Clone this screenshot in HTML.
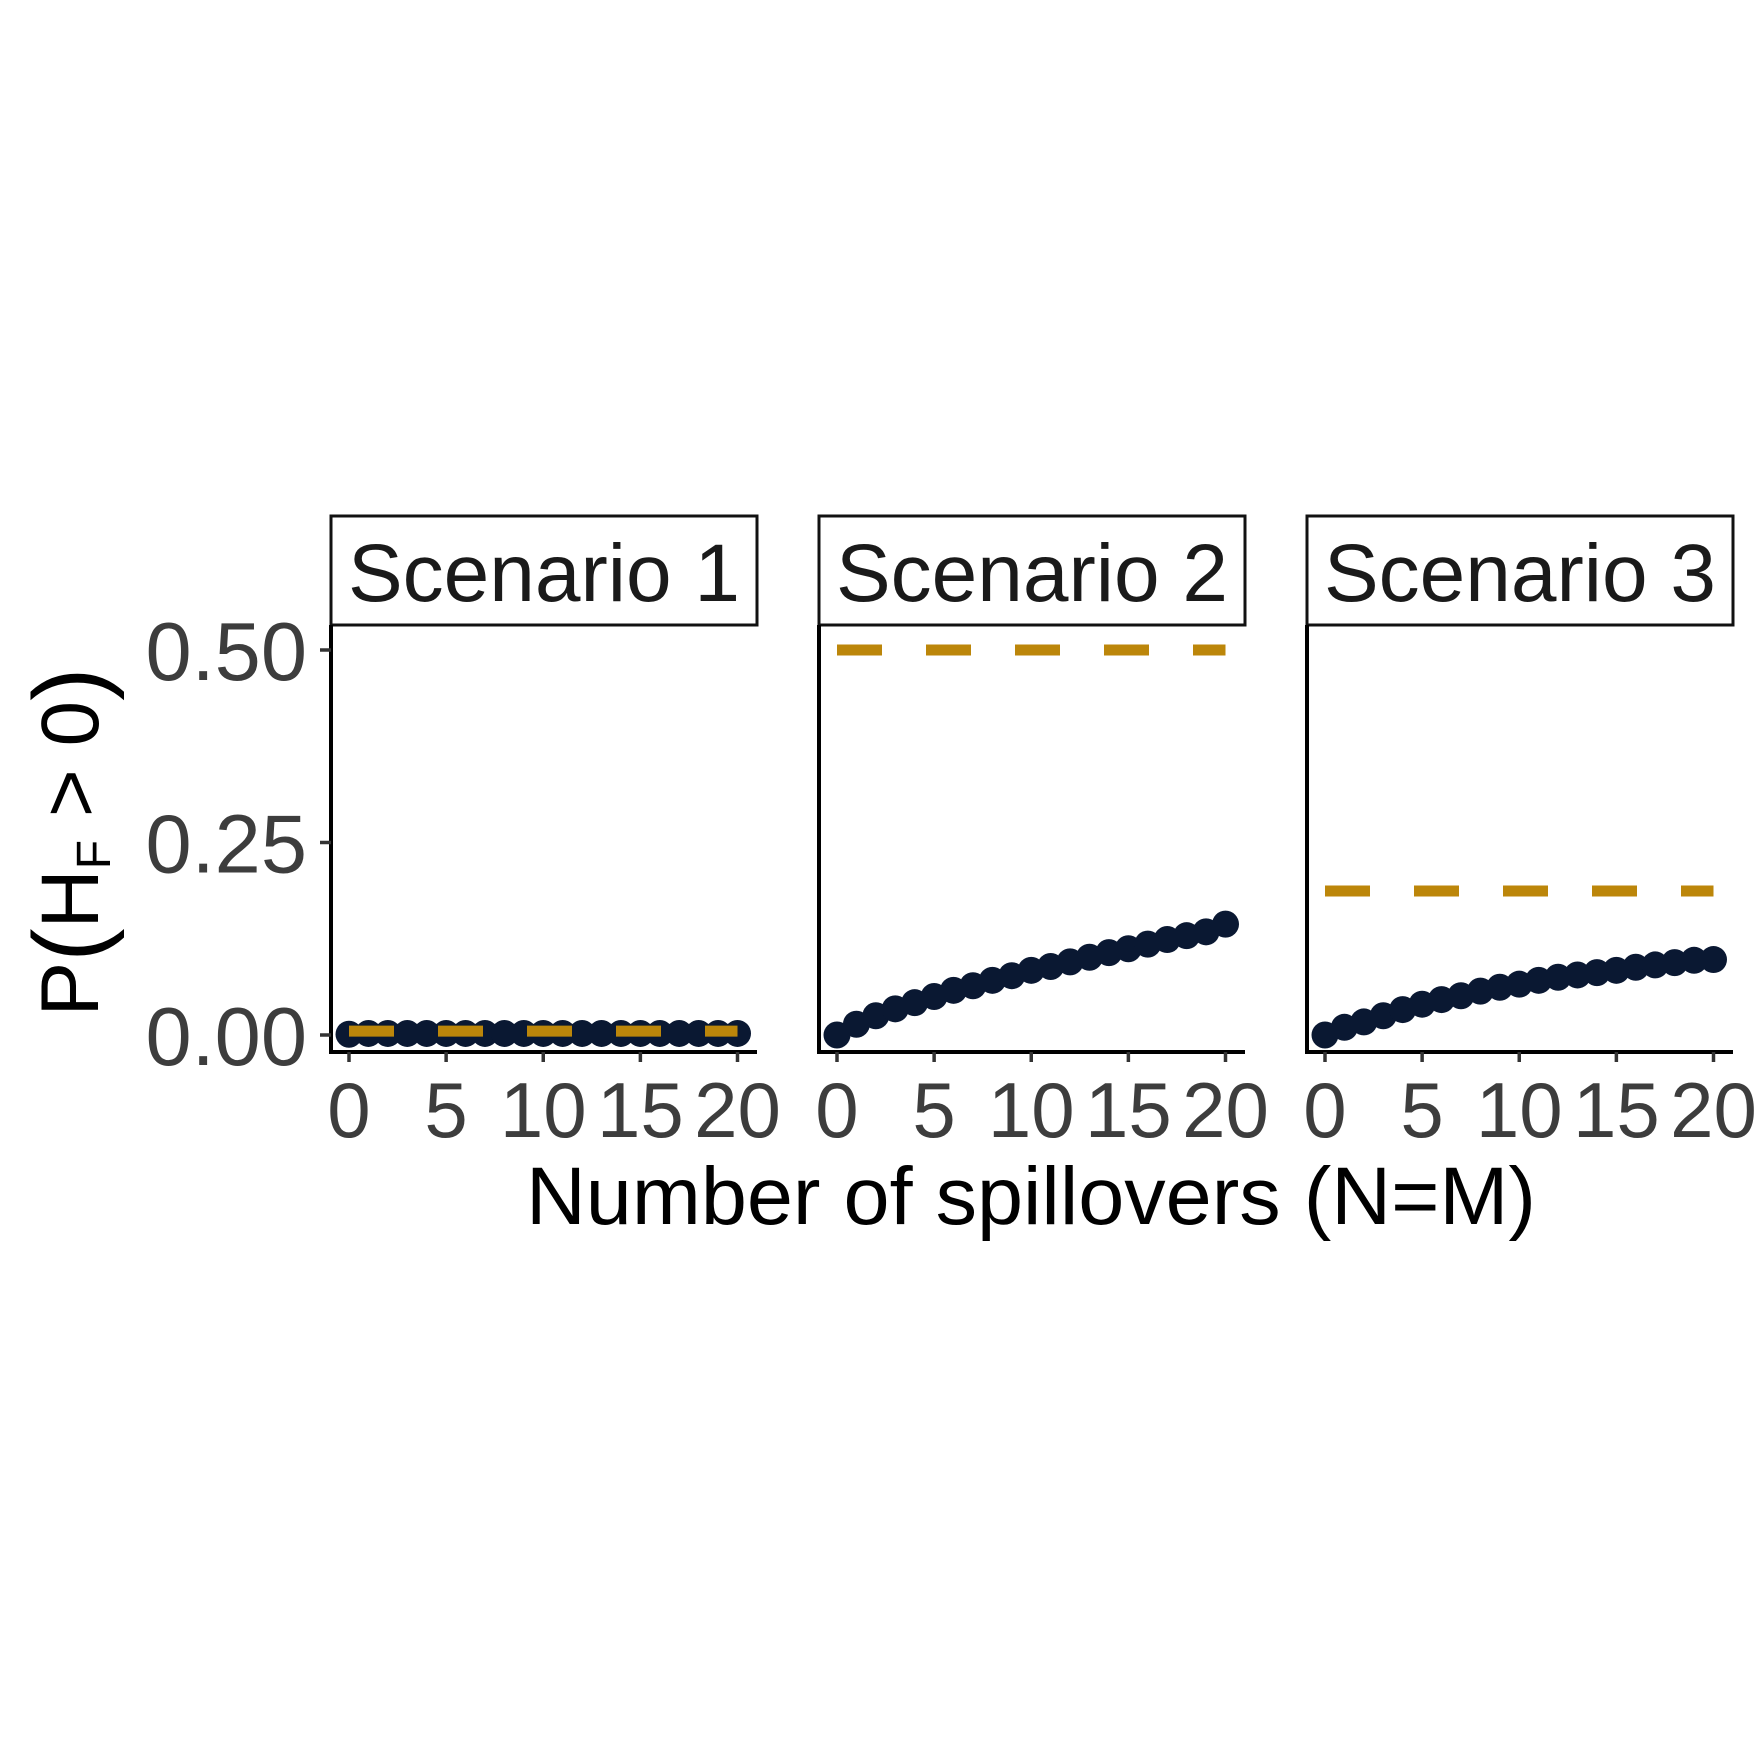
<!DOCTYPE html>
<html><head><meta charset="utf-8"><style>
html,body{margin:0;padding:0;background:#fff;}
svg{display:block;font-family:"Liberation Sans",Arial,sans-serif;}
</style></head><body>
<svg id="chart" width="1755" height="1755" viewBox="0 0 1755 1755" xmlns="http://www.w3.org/2000/svg">
<rect width="1755" height="1755" fill="#fff"/>
<g id="root"></g>
</svg>
<script>
const scenarios = ["Scenario 1", "Scenario 2", "Scenario 3"];
const xValues = [0,1,2,3,4,5,6,7,8,9,10,11,12,13,14,15,16,17,18,19,20];
const series1 = [0.001,0.002,0.002,0.002,0.002,0.002,0.002,0.002,0.002,0.002,0.002,0.002,0.002,0.002,0.002,0.002,0.002,0.002,0.002,0.002,0.002];
const series2 = [0,0.014,0.025,0.034,0.042,0.050,0.058,0.064,0.071,0.077,0.084,0.089,0.095,0.101,0.107,0.112,0.118,0.124,0.129,0.134,0.144];
const series3 = [0,0.010,0.017,0.025,0.033,0.040,0.046,0.051,0.057,0.062,0.066,0.071,0.075,0.078,0.081,0.084,0.088,0.091,0.094,0.097,0.098];
const thresholds = [0.005, 0.50, 0.187];
const yTicks = [0, 0.25, 0.5];
const yTickLabels = ["0.00", "0.25", "0.50"];
const xTicks = [0, 5, 10, 15, 20];
const xTickLabels = ["0", "5", "10", "15", "20"];

const NS = "http://www.w3.org/2000/svg";
const root = document.getElementById("root");
function mk(tag, attrs, parent) {
  const e = document.createElementNS(NS, tag);
  for (const k in attrs) e.setAttribute(k, attrs[k]);
  (parent || root).appendChild(e);
  return e;
}
const panelLeft = [331, 819, 1307];
const panelWidth = 426;
const plotTop = 625, plotBottom = 1052;
function yScale(v) { return 1035 - v * 770; }
function xScale(p, v) { return panelLeft[p] + 18 + v * (388.5 / 20); }
const allSeries = [series1, series2, series3];

for (let p = 0; p < 3; p++) {
  const L = panelLeft[p];
  const g = mk("g", {});
  
  
  const strip = mk("rect", {x: L, y: 516, width: panelWidth, height: 109, fill: "#fff", stroke: "#111", "stroke-width": 3}, g);
  
  
  const st = mk("text", {x: L + panelWidth / 2, y: 601, "text-anchor": "middle", "font-size": 82, fill: "#1a1a1a"}, g);
  st.textContent = scenarios[p];
  
  
  const ya = mk("line", {x1: L, y1: plotTop, x2: L, y2: plotBottom + 2, stroke: "#000", "stroke-width": 4}, g);
  
  
  const xa = mk("line", {x1: L - 2, y1: plotBottom, x2: L + panelWidth, y2: plotBottom, stroke: "#000", "stroke-width": 4}, g);
  
  
  for (let i = 0; i < xTicks.length; i++) {
    const x = xScale(p, xTicks[i]);
    const t = mk("line", {x1: x, y1: plotBottom, x2: x, y2: plotBottom + 10, stroke: "#333", "stroke-width": 3.5}, g);
    
    
    const lb = mk("text", {x: x, y: 1137, "text-anchor": "middle", "font-size": 78, fill: "#3d3d3d"}, g);
    lb.textContent = xTickLabels[i];
    
    
  }
  const dl = mk("line", {x1: xScale(p, 0), y1: yScale(thresholds[p]), x2: xScale(p, 20), y2: yScale(thresholds[p]), stroke: "#bc860a", "stroke-width": 11, "stroke-dasharray": "45 44"}, g);
  
  
  const s = allSeries[p];
  for (let i = 0; i < xValues.length; i++) {
    const c = mk("circle", {cx: xScale(p, xValues[i]), cy: yScale(s[i]), r: 13.5, fill: "#0a1832"}, g);
    
    
  }
  if (p === 0) dl.parentNode.appendChild(dl);
}
for (let i = 0; i < yTicks.length; i++) {
  const y = yScale(yTicks[i]);
  const t = mk("line", {x1: 320, y1: y, x2: 331, y2: y, stroke: "#333", "stroke-width": 3.5});
  
  
  const lb = mk("text", {x: 307, y: y + 30, "text-anchor": "end", "font-size": 83, fill: "#3d3d3d"});
  lb.textContent = yTickLabels[i];
  
  
}
const xt = mk("text", {x: 1031, y: 1224, "text-anchor": "middle", "font-size": 82, fill: "#000", textLength: 1010, lengthAdjust: "spacingAndGlyphs"});
xt.textContent = "Number of spillovers (N=M)";


const yt = mk("text", {x: 0, y: 0, transform: "translate(98,842) rotate(-90)", "text-anchor": "middle", "font-size": 82, fill: "#000"});


yt.innerHTML = '<tspan>P</tspan><tspan font-size="100" dy="5">(</tspan><tspan dy="-5">H</tspan><tspan font-size="48" dy="12">F</tspan><tspan dy="-12"> &gt; 0</tspan><tspan font-size="100" dy="5">)</tspan>';
</script>
</body></html>
